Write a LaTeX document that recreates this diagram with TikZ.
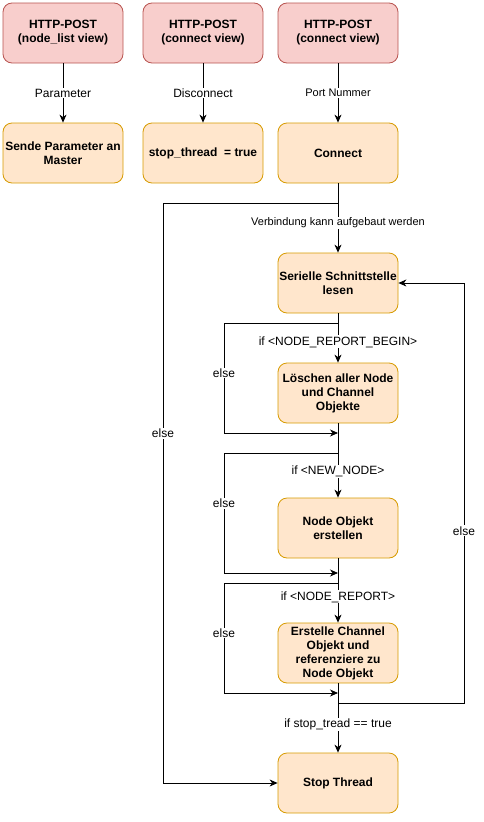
\documentclass[tikz,border=0pt]{standalone}
\usepackage{fontspec}
\setmainfont{Liberation Sans}
\usetikzlibrary{arrows.meta}
\definecolor{redfill}{HTML}{F8CECC}
\definecolor{redline}{HTML}{B85450}
\definecolor{orfill}{HTML}{FFE6CC}
\definecolor{orline}{HTML}{D79B00}
\tikzset{
  boxbase/.style={rounded corners=9pt, minimum width=120pt, minimum height=60pt, inner sep=1pt, align=center, font=\fontsize{12}{14}\selectfont\bfseries, line width=0.8pt},
  redbox/.style={boxbase, fill=redfill, draw=redline},
  orbox/.style={boxbase, fill=orfill, draw=orline},
  lbl/.style={fill=white, inner sep=1pt, font=\fontsize{12}{14}\selectfont},
  slbl/.style={fill=white, inner sep=1pt, font=\fontsize{11}{13}\selectfont},
  conn/.style={line width=0.8pt, draw=black},
  arr/.style={conn, -{Stealth[length=8pt,width=7pt,inset=2.5pt]}},
}
\begin{document}
\begin{tikzpicture}[x=1pt,y=-1pt]
\useasboundingbox (0,0) rectangle (484,822);
% top row
\node[redbox] (h1) at (63,33) {HTTP-POST\\(node\_list view)};
\node[redbox] (h2) at (203,33) {HTTP-POST\\(connect view)};
\node[redbox] (h3) at (338,33) {HTTP-POST\\(connect view)};
% second row
\node[orbox] (p1) at (63,153) {Sende Parameter an\\Master};
\node[orbox] (p2) at (203,153) {stop\_thread~ = true};
\node[orbox] (c) at (338,153) {Connect};
% main column
\node[orbox] (s) at (338,283) {Serielle Schnittstelle\\lesen};
\node[orbox] (l) at (338,393) {Löschen aller Node\\und Channel\\Objekte};
\node[orbox] (n) at (338,528) {Node Objekt\\erstellen};
\node[orbox] (e) at (338,653) {Erstelle Channel\\Objekt und\\referenziere zu\\Node Objekt};
\node[orbox] (st) at (338,783) {Stop Thread};
% junction coordinates
\coordinate (j0) at (338,203);
\coordinate (b1) at (338,323);
\coordinate (m1) at (338,433);
\coordinate (b2) at (338,453);
\coordinate (m2) at (338,573);
\coordinate (b3) at (338,583);
\coordinate (m3) at (338,693);
\coordinate (b4) at (338,703);
% top connectors
\draw[arr] (h1) -- node[lbl]{Parameter} (p1);
\draw[arr] (h2) -- node[lbl]{Disconnect} (p2);
\draw[arr] (h3) -- node[slbl]{Port Nummer} (c);
% main flow
\draw[arr] (c) -- node[slbl, pos=0.57]{Verbindung kann aufgebaut werden} (s);
\draw[arr] (s) -- node[lbl, pos=0.58]{if <NODE\_REPORT\_BEGIN>} (l);
\draw[arr] (l) -- node[lbl, pos=0.65]{if <NEW\_NODE>} (n);
\draw[arr] (n) -- node[lbl, pos=0.6]{if <NODE\_REPORT>} (e);
\draw[arr] (e) -- node[lbl, pos=0.59]{if stop\_tread == true} (st);
% else branches
\draw[arr] (j0) -- (163,203) -- node[lbl, pos=0.397]{else} (163,783) -- (st.west);
\draw[arr] (b1) -- (224,323) -- node[lbl, pos=0.455]{else} (224,433) -- (m1);
\draw[arr] (b2) -- (224,453) -- node[lbl, pos=0.42]{else} (224,573) -- (m2);
\draw[arr] (b3) -- (224,583) -- node[lbl, pos=0.455]{else} (224,693) -- (m3);
\draw[arr] (b4) -- (464,703) -- node[lbl, pos=0.41]{else} (464,283) -- (s.east);
\end{tikzpicture}
\end{document}
